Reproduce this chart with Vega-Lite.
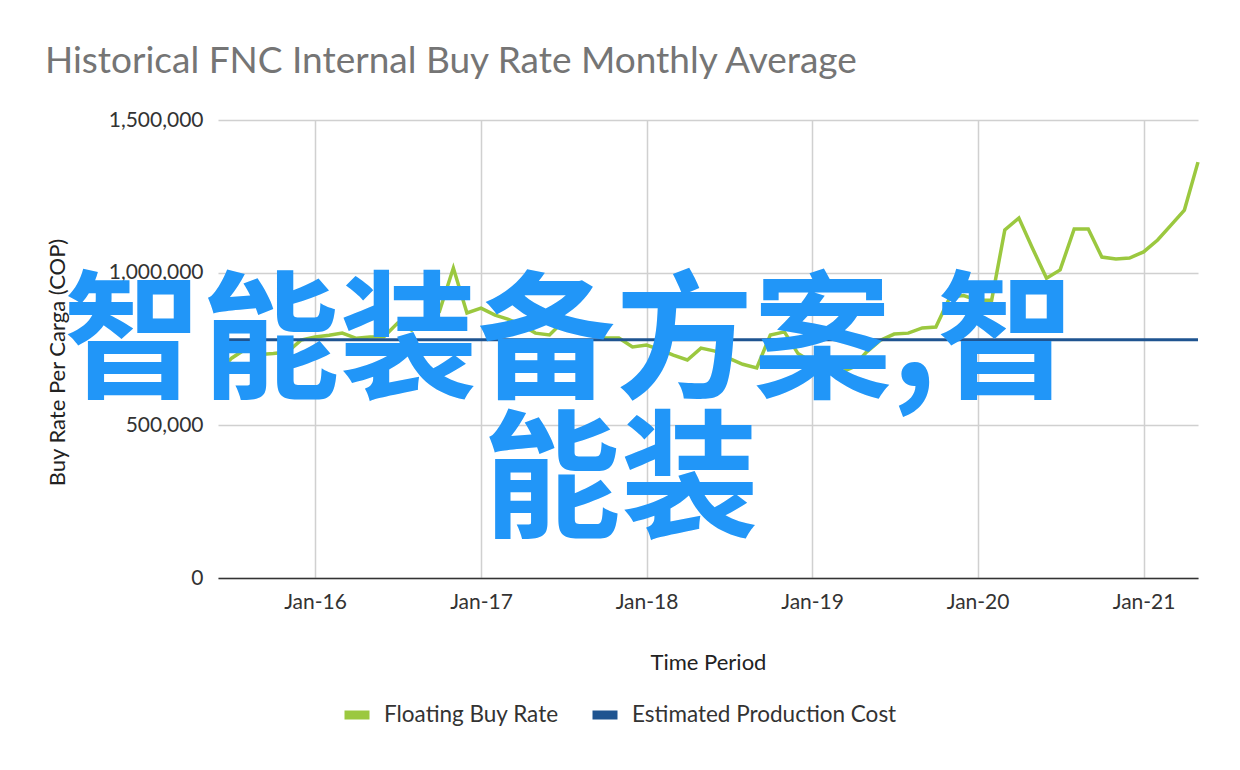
{
  "$schema": "https://vega.github.io/schema/vega-lite/v6.json",
  "width": 980,
  "height": 458,
  "autosize": {"type": "none"},
  "padding": {"left": 218, "top": 120, "right": 42, "bottom": 192},
  "background": "#ffffff",
  "title": {
    "text": "Historical FNC Internal Buy Rate Monthly Average",
    "anchor": "start",
    "frame": "group",
    "dx": -173,
    "offset": 28,
    "font": "Lato",
    "fontSize": 37,
    "fontWeight": "normal",
    "color": "#757575"
  },
  "datasets": {
    "buy": [
      {"month": "2015-06-01", "series": "Floating Buy Rate", "value": 671000},
      {"month": "2015-07-01", "series": "Floating Buy Rate", "value": 720000},
      {"month": "2015-08-01", "series": "Floating Buy Rate", "value": 750000},
      {"month": "2015-09-01", "series": "Floating Buy Rate", "value": 732000},
      {"month": "2015-10-01", "series": "Floating Buy Rate", "value": 735000},
      {"month": "2015-11-01", "series": "Floating Buy Rate", "value": 740000},
      {"month": "2015-12-01", "series": "Floating Buy Rate", "value": 779000},
      {"month": "2016-01-01", "series": "Floating Buy Rate", "value": 789000},
      {"month": "2016-02-01", "series": "Floating Buy Rate", "value": 795000},
      {"month": "2016-03-01", "series": "Floating Buy Rate", "value": 802000},
      {"month": "2016-04-01", "series": "Floating Buy Rate", "value": 785000},
      {"month": "2016-05-01", "series": "Floating Buy Rate", "value": 789000},
      {"month": "2016-06-01", "series": "Floating Buy Rate", "value": 790000},
      {"month": "2016-07-01", "series": "Floating Buy Rate", "value": 835000},
      {"month": "2016-08-01", "series": "Floating Buy Rate", "value": 812000},
      {"month": "2016-09-01", "series": "Floating Buy Rate", "value": 852000},
      {"month": "2016-10-01", "series": "Floating Buy Rate", "value": 872000},
      {"month": "2016-11-01", "series": "Floating Buy Rate", "value": 1015000},
      {"month": "2016-12-01", "series": "Floating Buy Rate", "value": 868000},
      {"month": "2017-01-01", "series": "Floating Buy Rate", "value": 884000},
      {"month": "2017-02-01", "series": "Floating Buy Rate", "value": 861000},
      {"month": "2017-03-01", "series": "Floating Buy Rate", "value": 848000},
      {"month": "2017-04-01", "series": "Floating Buy Rate", "value": 828000},
      {"month": "2017-05-01", "series": "Floating Buy Rate", "value": 802000},
      {"month": "2017-06-01", "series": "Floating Buy Rate", "value": 796000},
      {"month": "2017-07-01", "series": "Floating Buy Rate", "value": 840000},
      {"month": "2017-08-01", "series": "Floating Buy Rate", "value": 815000},
      {"month": "2017-09-01", "series": "Floating Buy Rate", "value": 800000},
      {"month": "2017-10-01", "series": "Floating Buy Rate", "value": 786000},
      {"month": "2017-11-01", "series": "Floating Buy Rate", "value": 786000},
      {"month": "2017-12-01", "series": "Floating Buy Rate", "value": 757000},
      {"month": "2018-01-01", "series": "Floating Buy Rate", "value": 763000},
      {"month": "2018-02-01", "series": "Floating Buy Rate", "value": 747000},
      {"month": "2018-03-01", "series": "Floating Buy Rate", "value": 730000},
      {"month": "2018-04-01", "series": "Floating Buy Rate", "value": 714000},
      {"month": "2018-05-01", "series": "Floating Buy Rate", "value": 753000},
      {"month": "2018-06-01", "series": "Floating Buy Rate", "value": 743000},
      {"month": "2018-07-01", "series": "Floating Buy Rate", "value": 720000},
      {"month": "2018-08-01", "series": "Floating Buy Rate", "value": 700000},
      {"month": "2018-09-01", "series": "Floating Buy Rate", "value": 688000},
      {"month": "2018-10-01", "series": "Floating Buy Rate", "value": 796000},
      {"month": "2018-11-01", "series": "Floating Buy Rate", "value": 806000},
      {"month": "2018-12-01", "series": "Floating Buy Rate", "value": 735000},
      {"month": "2019-01-01", "series": "Floating Buy Rate", "value": 707000},
      {"month": "2019-02-01", "series": "Floating Buy Rate", "value": 685000},
      {"month": "2019-03-01", "series": "Floating Buy Rate", "value": 670000},
      {"month": "2019-04-01", "series": "Floating Buy Rate", "value": 690000},
      {"month": "2019-05-01", "series": "Floating Buy Rate", "value": 740000},
      {"month": "2019-06-01", "series": "Floating Buy Rate", "value": 779000},
      {"month": "2019-07-01", "series": "Floating Buy Rate", "value": 799000},
      {"month": "2019-08-01", "series": "Floating Buy Rate", "value": 802000},
      {"month": "2019-09-01", "series": "Floating Buy Rate", "value": 819000},
      {"month": "2019-10-01", "series": "Floating Buy Rate", "value": 822000},
      {"month": "2019-11-01", "series": "Floating Buy Rate", "value": 920000},
      {"month": "2019-12-01", "series": "Floating Buy Rate", "value": 925000},
      {"month": "2020-01-01", "series": "Floating Buy Rate", "value": 910000},
      {"month": "2020-02-01", "series": "Floating Buy Rate", "value": 910000},
      {"month": "2020-03-01", "series": "Floating Buy Rate", "value": 1140000},
      {"month": "2020-04-01", "series": "Floating Buy Rate", "value": 1179000},
      {"month": "2020-05-01", "series": "Floating Buy Rate", "value": 1080000},
      {"month": "2020-06-01", "series": "Floating Buy Rate", "value": 982000},
      {"month": "2020-07-01", "series": "Floating Buy Rate", "value": 1009000},
      {"month": "2020-08-01", "series": "Floating Buy Rate", "value": 1143000},
      {"month": "2020-09-01", "series": "Floating Buy Rate", "value": 1143000},
      {"month": "2020-10-01", "series": "Floating Buy Rate", "value": 1051000},
      {"month": "2020-11-01", "series": "Floating Buy Rate", "value": 1045000},
      {"month": "2020-12-01", "series": "Floating Buy Rate", "value": 1048000},
      {"month": "2021-01-01", "series": "Floating Buy Rate", "value": 1068000},
      {"month": "2021-02-01", "series": "Floating Buy Rate", "value": 1107000},
      {"month": "2021-03-01", "series": "Floating Buy Rate", "value": 1153000},
      {"month": "2021-04-01", "series": "Floating Buy Rate", "value": 1205000},
      {"month": "2021-05-01", "series": "Floating Buy Rate", "value": 1362000}
    ],
    "cost": [
      {"month": "2015-06-01", "series": "Estimated Production Cost", "value": 780000},
      {"month": "2021-05-01", "series": "Estimated Production Cost", "value": 780000}
    ],
    "overlay1": [{"label": "智能装备方案,智"}],
    "overlay2": [{"label": "能装"}]
  },
  "layer": [
    {
      "data": {"name": "buy"},
      "mark": {"type": "line", "strokeWidth": 3.5, "strokeCap": "butt"},
      "encoding": {
        "x": {
          "field": "month",
          "type": "temporal",
          "title": "Time Period",
          "scale": {
            "type": "utc",
            "domain": [
              {"year": 2015, "month": 6, "date": 1, "utc": true},
              {"year": 2021, "month": 5, "date": 1, "utc": true}
            ]
          },
          "axis": {
            "values": [
              {"year": 2016, "month": 1, "date": 1, "utc": true},
              {"year": 2017, "month": 1, "date": 1, "utc": true},
              {"year": 2018, "month": 1, "date": 1, "utc": true},
              {"year": 2019, "month": 1, "date": 1, "utc": true},
              {"year": 2020, "month": 1, "date": 1, "utc": true},
              {"year": 2021, "month": 1, "date": 1, "utc": true}
            ],
            "labelExpr": "utcFormat(datum.value, '%b-%y')",
            "grid": true,
            "ticks": false,
            "domain": true,
            "domainColor": "#333333",
            "domainWidth": 1.5,
            "labelPadding": 13,
            "titlePadding": 40,
            "titleFontSize": 22
          }
        },
        "y": {
          "field": "value",
          "type": "quantitative",
          "title": "Buy Rate Per Carga (COP)",
          "scale": {"domain": [0, 1500000], "nice": false},
          "axis": {
            "values": [0, 500000, 1000000, 1500000],
            "labelExpr": "format(datum.value, ',')",
            "grid": true,
            "ticks": false,
            "domain": false,
            "labelPadding": 15,
            "titleX": -161,
            "titleY": 242,
            "titleAngle": -90,
            "titleAlign": "center",
            "titleBaseline": "middle",
            "titleFontSize": 22
          }
        },
        "color": {
          "field": "series",
          "type": "nominal",
          "scale": {
            "domain": ["Floating Buy Rate", "Estimated Production Cost"],
            "range": ["#9BC83F", "#1F5490"]
          },
          "legend": {
            "title": null,
            "orient": "none",
            "direction": "horizontal",
            "legendX": 122,
            "legendY": 578,
            "symbolType": "stroke",
            "symbolStrokeWidth": 9,
            "symbolSize": 625,
            "labelOffset": 10,
            "labelLimit": 500,
            "columnPadding": 15,
            "padding": 0
          }
        }
      }
    },
    {
      "data": {"name": "cost"},
      "mark": {"type": "line", "strokeWidth": 3, "strokeCap": "butt"},
      "encoding": {
        "x": {"field": "month", "type": "temporal", "axis": null},
        "y": {"field": "value", "type": "quantitative", "axis": null},
        "color": {"field": "series", "type": "nominal"}
      }
    },
    {
      "data": {"name": "overlay1"},
      "mark": {
        "type": "text",
        "font": "Noto Sans CJK SC",
        "fontWeight": "bold",
        "fontSize": 138,
        "align": "center",
        "baseline": "alphabetic",
        "fill": "#2196F8"
      },
      "encoding": {
        "x": {"datum": {"year": 2017, "month": 7, "date": 14, "utc": true}, "type": "temporal", "axis": null},
        "y": {"datum": 625000, "type": "quantitative", "axis": null},
        "text": {"field": "label", "type": "nominal"}
      }
    },
    {
      "data": {"name": "overlay2"},
      "mark": {
        "type": "text",
        "font": "Noto Sans CJK SC",
        "fontWeight": "bold",
        "fontSize": 138,
        "align": "center",
        "baseline": "alphabetic",
        "fill": "#2196F8"
      },
      "encoding": {
        "x": {"datum": {"year": 2017, "month": 11, "date": 5, "utc": true}, "type": "temporal", "axis": null},
        "y": {"datum": 170000, "type": "quantitative", "axis": null},
        "text": {"field": "label", "type": "nominal"}
      }
    }
  ],
  "resolve": {"axis": {"x": "independent", "y": "independent"}},
  "config": {
    "font": "Lato",
    "view": {"stroke": null},
    "axis": {
      "gridColor": "#D0D0D0",
      "gridWidth": 1.5,
      "labelFont": "Lato",
      "labelFontSize": 21,
      "labelColor": "#333333",
      "titleFont": "Lato",
      "titleFontSize": 21,
      "titleFontWeight": "normal",
      "titleColor": "#222222"
    },
    "legend": {
      "labelFont": "Lato",
      "labelFontSize": 22.5,
      "labelColor": "#333333"
    }
  }
}
